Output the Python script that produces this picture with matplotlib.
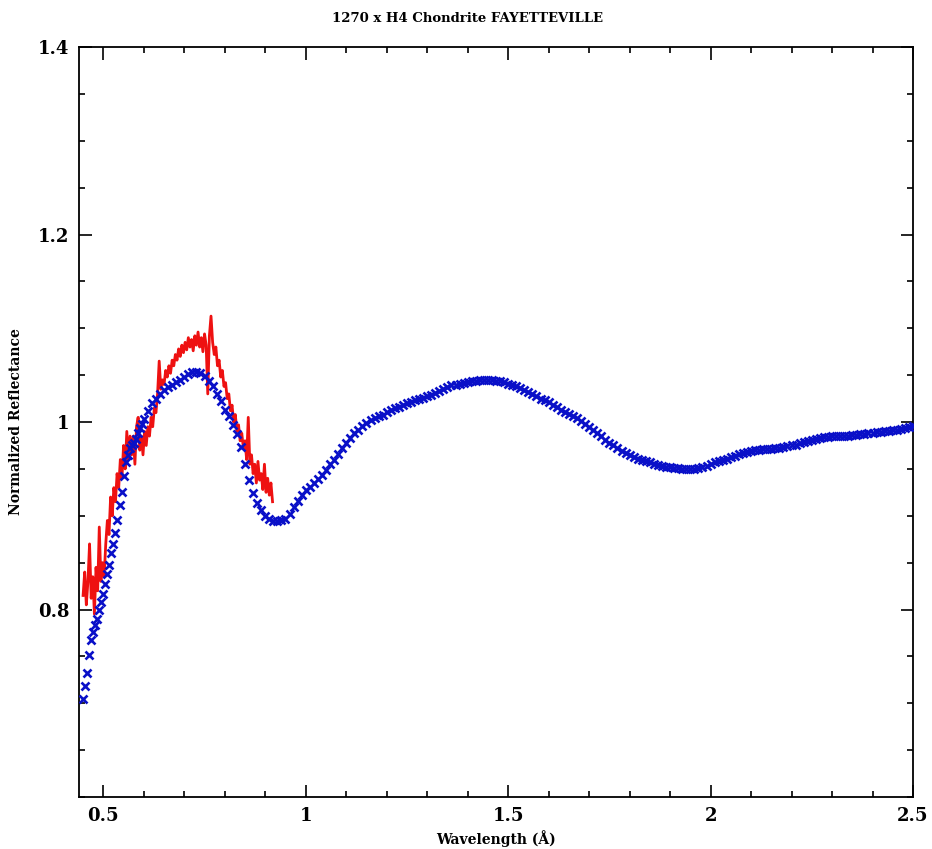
import matplotlib
matplotlib.use("Agg")
from matplotlib import pyplot as plt
from matplotlib.ticker import MultipleLocator

# blue: reflectance spectrum (x markers)
blue_wl = [0.450, 0.455, 0.460, 0.465, 0.470, 0.475, 0.480, 0.485, 0.490, 0.495,
           0.500, 0.505, 0.510, 0.515, 0.520, 0.525, 0.530, 0.535, 0.540, 0.545,
           0.550, 0.555, 0.560, 0.565, 0.570, 0.575, 0.580, 0.585, 0.590, 0.595,
           0.600,
           0.61, 0.62, 0.63, 0.64, 0.65, 0.66, 0.67, 0.68, 0.69, 0.70,
           0.71, 0.72, 0.73, 0.74, 0.75, 0.76, 0.77, 0.78, 0.79, 0.80,
           0.81, 0.82, 0.83, 0.84, 0.85, 0.86, 0.87, 0.88, 0.89, 0.90,
           0.91, 0.92, 0.93, 0.94, 0.95, 0.96, 0.97, 0.98, 0.99, 1.00,
           1.01, 1.02, 1.03, 1.04, 1.05, 1.06, 1.07, 1.08, 1.09, 1.10,
           1.11, 1.12, 1.13, 1.14, 1.15, 1.16, 1.17, 1.18, 1.19, 1.20,
           1.21, 1.22, 1.23, 1.24, 1.25, 1.26, 1.27, 1.28, 1.29, 1.30,
           1.31, 1.32, 1.33, 1.34, 1.35, 1.36, 1.37, 1.38, 1.39, 1.40,
           1.41, 1.42, 1.43, 1.44, 1.45, 1.46, 1.47, 1.48, 1.49, 1.50,
           1.51, 1.52, 1.53, 1.54, 1.55, 1.56, 1.57, 1.58, 1.59, 1.60,
           1.61, 1.62, 1.63, 1.64, 1.65, 1.66, 1.67, 1.68, 1.69, 1.70,
           1.71, 1.72, 1.73, 1.74, 1.75, 1.76, 1.77, 1.78, 1.79, 1.80,
           1.81, 1.82, 1.83, 1.84, 1.85, 1.86, 1.87, 1.88, 1.89, 1.90,
           1.91, 1.92, 1.93, 1.94, 1.95, 1.96, 1.97, 1.98, 1.99, 2.00,
           2.01, 2.02, 2.03, 2.04, 2.05, 2.06, 2.07, 2.08, 2.09, 2.10,
           2.11, 2.12, 2.13, 2.14, 2.15, 2.16, 2.17, 2.18, 2.19, 2.20,
           2.21, 2.22, 2.23, 2.24, 2.25, 2.26, 2.27, 2.28, 2.29, 2.30,
           2.31, 2.32, 2.33, 2.34, 2.35, 2.36, 2.37, 2.38, 2.39, 2.40,
           2.41, 2.42, 2.43, 2.44, 2.45, 2.46, 2.47, 2.48, 2.49, 2.50]
blue_refl = [0.705, 0.718, 0.732, 0.752, 0.768, 0.776, 0.783, 0.790, 0.800, 0.808,
             0.817, 0.827, 0.838, 0.848, 0.860, 0.870, 0.882, 0.895, 0.912, 0.925,
             0.942, 0.957, 0.965, 0.972, 0.975, 0.978, 0.982, 0.988, 0.994, 0.998,
             1.003,
             1.012, 1.020, 1.025, 1.030, 1.034, 1.037, 1.040, 1.043, 1.045, 1.048,
             1.051, 1.053, 1.053, 1.052, 1.049, 1.044, 1.038, 1.030, 1.022, 1.013,
             1.006, 0.997, 0.987, 0.973, 0.955, 0.938, 0.924, 0.914, 0.906, 0.900,
             0.897, 0.894, 0.894, 0.895, 0.897, 0.902, 0.909, 0.916, 0.922, 0.927,
             0.931, 0.935, 0.939, 0.944, 0.949, 0.955, 0.960, 0.966, 0.972, 0.978,
             0.983, 0.988, 0.992, 0.996, 0.999, 1.002, 1.004, 1.006, 1.008, 1.011,
             1.013, 1.015, 1.016, 1.018, 1.020, 1.021, 1.023, 1.025, 1.026, 1.028,
             1.029, 1.031, 1.033, 1.035, 1.037, 1.039, 1.040, 1.041, 1.042, 1.043,
             1.044, 1.044, 1.045, 1.045, 1.045, 1.045, 1.044, 1.044, 1.043, 1.041,
             1.040, 1.038, 1.036, 1.034, 1.032, 1.030, 1.028, 1.025, 1.023, 1.021,
             1.018, 1.016, 1.013, 1.011, 1.009, 1.006, 1.004, 1.001, 0.998, 0.995,
             0.992, 0.988, 0.985, 0.981, 0.978, 0.975, 0.972, 0.969, 0.967, 0.965,
             0.963, 0.961, 0.959, 0.958, 0.957, 0.955, 0.954, 0.953, 0.952, 0.952,
             0.951, 0.951, 0.950, 0.950, 0.950, 0.950, 0.951, 0.952, 0.953, 0.955,
             0.957, 0.958, 0.960, 0.961, 0.963, 0.964, 0.966, 0.967, 0.968, 0.969,
             0.970, 0.970, 0.971, 0.971, 0.971, 0.972, 0.972, 0.973, 0.974, 0.975,
             0.976, 0.978, 0.979, 0.980, 0.981, 0.982, 0.983, 0.984, 0.984, 0.985,
             0.985, 0.985, 0.985, 0.985, 0.986, 0.986, 0.987, 0.987, 0.988, 0.988,
             0.989, 0.989, 0.990, 0.990, 0.991, 0.992, 0.993, 0.994, 0.995, 0.996]

# red: noisy visible spectrum (line)
red_wl = [0.450, 0.454, 0.458, 0.462, 0.466, 0.470, 0.474, 0.478, 0.482, 0.486,
          0.490, 0.494, 0.498, 0.502, 0.506, 0.510, 0.514, 0.518, 0.522, 0.526,
          0.530, 0.534, 0.538, 0.542, 0.546, 0.550, 0.554, 0.558, 0.562, 0.566,
          0.570, 0.574, 0.578, 0.582, 0.586, 0.590, 0.594, 0.598, 0.602, 0.606,
          0.610, 0.614, 0.618, 0.622, 0.626, 0.630, 0.634, 0.638, 0.642, 0.646,
          0.650, 0.654, 0.658, 0.662, 0.666, 0.670, 0.674, 0.678, 0.682, 0.686,
          0.690, 0.694, 0.698, 0.702, 0.706, 0.710, 0.714, 0.718, 0.722, 0.726,
          0.730, 0.734, 0.738, 0.742, 0.746, 0.750, 0.754, 0.758, 0.762, 0.766,
          0.770, 0.774, 0.778, 0.782, 0.786, 0.790, 0.794, 0.798, 0.802, 0.806,
          0.810, 0.814, 0.818, 0.822, 0.826, 0.830, 0.834, 0.838, 0.842, 0.846,
          0.850, 0.854, 0.858, 0.862, 0.866, 0.870, 0.874, 0.878, 0.882, 0.886,
          0.890, 0.894, 0.898, 0.902, 0.906, 0.910, 0.914, 0.918]
red_refl = [0.815, 0.840, 0.805, 0.830, 0.870, 0.812, 0.835, 0.795, 0.845, 0.820,
            0.888, 0.830, 0.850, 0.835, 0.870, 0.895, 0.880, 0.920, 0.900, 0.930,
            0.915, 0.945, 0.930, 0.960, 0.940, 0.975, 0.950, 0.990, 0.960, 0.985,
            0.965, 0.985, 0.955, 0.995, 1.005, 0.970, 0.985, 0.965, 0.990, 0.975,
            0.995, 0.985, 1.005, 0.995, 1.015, 1.010, 1.030, 1.065, 1.035, 1.045,
            1.040, 1.055, 1.048, 1.060, 1.052, 1.066, 1.060, 1.072, 1.066, 1.078,
            1.070, 1.082, 1.074, 1.085, 1.077, 1.090, 1.080, 1.088, 1.076, 1.092,
            1.082, 1.096, 1.080, 1.090, 1.075, 1.094, 1.082, 1.030, 1.092, 1.113,
            1.085, 1.072, 1.080, 1.060, 1.066, 1.048, 1.055, 1.038, 1.042, 1.025,
            1.030, 1.012, 1.018, 1.000, 1.008, 0.990, 0.997, 0.980, 0.988, 0.972,
            0.980, 0.960, 1.005, 0.955, 0.965, 0.945, 0.955, 0.935, 0.958, 0.938,
            0.945, 0.928, 0.955, 0.925, 0.940, 0.922, 0.935, 0.915]

x_ticks = [0.5, 1, 1.5, 2, 2.5]
x_ticklabels = ["0.5", "1", "1.5", "2", "2.5"]
y_ticks = [0.8, 1.0, 1.2, 1.4]
y_ticklabels = ["0.8", "1", "1.2", "1.4"]

plt.rcParams['font.family'] = ['DejaVu Serif']
plt.rcParams['font.weight'] = 'bold'

fig = plt.figure(figsize=(9.32, 8.49), dpi=100)
ax = fig.add_axes([0.0848, 0.0612, 0.8948, 0.8834])

ax.plot(red_wl, red_refl, color='#ee1111', linewidth=2.0, zorder=2)
ax.plot(blue_wl, blue_refl, linestyle='none', marker='x', color='#0a10c8',
        markersize=5.5, markeredgewidth=1.9, zorder=3)

ax.set_xlim(0.44, 2.5)
ax.set_ylim(0.6, 1.4)
ax.set_xticks(x_ticks)
ax.set_xticklabels(x_ticklabels)
ax.set_yticks(y_ticks)
ax.set_yticklabels(y_ticklabels)
ax.xaxis.set_minor_locator(MultipleLocator(0.1))
ax.yaxis.set_minor_locator(MultipleLocator(0.05))
ax.tick_params(which='both', direction='in', top=True, right=True, width=1.2)
ax.tick_params(which='major', length=9, labelsize=13, pad=7)
ax.tick_params(which='minor', length=4.5)
for s in ax.spines.values():
    s.set_linewidth(1.3)

ax.set_xlabel("Wavelength (Å)", fontsize=10, fontweight='bold', labelpad=4)
ax.set_ylabel("Normalized Reflectance", fontsize=10, fontweight='bold', labelpad=11)
fig.text(0.502, 0.978, "1270 x H4 Chondrite FAYETTEVILLE", ha='center', va='center',
         fontsize=9.5, fontweight='bold')

fig.savefig('out.png', dpi=100)
